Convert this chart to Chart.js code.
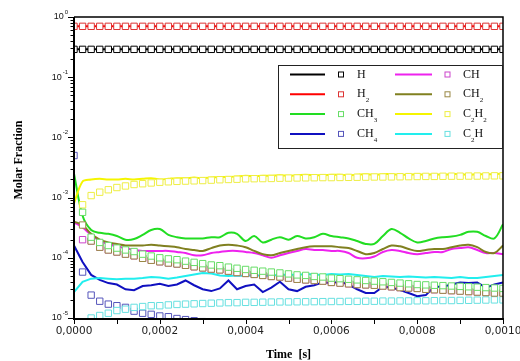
<!DOCTYPE html>
<html>
<head>
<meta charset="utf-8">
<script src="https://cdn.jsdelivr.net/npm/chart.js@4"></script>
<style>
  html, body { margin: 0; padding: 0; background: #fff; }
  canvas { display: block; }
</style>
</head>
<body>
<canvas id="molChart" width="520" height="361"></canvas>
<script>
// time in microseconds
const timeUs = [0, 20, 40, 60, 80, 100, 120, 140, 160, 180,
  200, 220, 240, 260, 280, 300, 320, 340, 360, 380,
  400, 420, 440, 460, 480, 500, 520, 540, 560, 580,
  600, 620, 640, 660, 680, 700, 720, 740, 760, 780,
  800, 820, 840, 860, 880, 900, 920, 940, 960, 980, 1000];

// H and H2 (line and markers share values)
const hVals = [0.29, 0.29, 0.29, 0.29, 0.29, 0.29, 0.29, 0.29, 0.29, 0.29,
  0.29, 0.29, 0.29, 0.29, 0.29, 0.29, 0.29, 0.29, 0.29, 0.29,
  0.29, 0.29, 0.29, 0.29, 0.29, 0.29, 0.29, 0.29, 0.29, 0.29,
  0.29, 0.29, 0.29, 0.29, 0.29, 0.29, 0.29, 0.29, 0.29, 0.29,
  0.29, 0.29, 0.29, 0.29, 0.29, 0.29, 0.29, 0.29, 0.29, 0.29, 0.29];
const h2Vals = [0.70, 0.70, 0.70, 0.70, 0.70, 0.70, 0.70, 0.70, 0.70, 0.70,
  0.70, 0.70, 0.70, 0.70, 0.70, 0.70, 0.70, 0.70, 0.70, 0.70,
  0.70, 0.70, 0.70, 0.70, 0.70, 0.70, 0.70, 0.70, 0.70, 0.70,
  0.70, 0.70, 0.70, 0.70, 0.70, 0.70, 0.70, 0.70, 0.70, 0.70,
  0.70, 0.70, 0.70, 0.70, 0.70, 0.70, 0.70, 0.70, 0.70, 0.70, 0.70];

// line series
const ch3Line = [2.5e-3, 5.0e-4, 2.9e-4, 2.6e-4, 2.5e-4, 2.3e-4, 2.0e-4, 2.05e-4, 2.4e-4, 2.9e-4,
  3.0e-4, 2.4e-4, 2.2e-4, 2.1e-4, 2.1e-4, 2.1e-4, 2.2e-4, 2.2e-4, 2.6e-4, 2.5e-4,
  1.9e-4, 2.3e-4, 1.8e-4, 2.0e-4, 2.2e-4, 2.0e-4, 2.3e-4, 2.1e-4, 2.2e-4, 2.5e-4,
  2.3e-4, 2.2e-4, 2.1e-4, 1.9e-4, 1.7e-4, 1.7e-4, 2.3e-4, 3.0e-4, 2.6e-4, 2.1e-4,
  1.8e-4, 1.9e-4, 2.1e-4, 2.2e-4, 2.25e-4, 2.4e-4, 2.7e-4, 2.7e-4, 2.3e-4, 2.1e-4, 3.6e-4];
const ch2Line = [4.0e-4, 3.5e-4, 2.5e-4, 2.0e-4, 1.8e-4, 1.7e-4, 1.6e-4, 1.6e-4, 1.6e-4, 1.65e-4,
  1.6e-4, 1.55e-4, 1.5e-4, 1.4e-4, 1.35e-4, 1.3e-4, 1.45e-4, 1.6e-4, 1.65e-4, 1.6e-4,
  1.5e-4, 1.3e-4, 1.15e-4, 1.1e-4, 1.2e-4, 1.3e-4, 1.4e-4, 1.5e-4, 1.55e-4, 1.55e-4,
  1.55e-4, 1.5e-4, 1.45e-4, 1.3e-4, 1.15e-4, 1.2e-4, 1.4e-4, 1.6e-4, 1.55e-4, 1.4e-4,
  1.3e-4, 1.35e-4, 1.4e-4, 1.4e-4, 1.5e-4, 1.6e-4, 1.65e-4, 1.5e-4, 1.25e-4, 1.2e-4, 1.6e-4];
const chLine = [3.9e-4, 3.2e-4, 2.4e-4, 1.9e-4, 1.7e-4, 1.55e-4, 1.45e-4, 1.35e-4, 1.3e-4, 1.3e-4,
  1.3e-4, 1.3e-4, 1.25e-4, 1.2e-4, 1.1e-4, 1.1e-4, 1.2e-4, 1.25e-4, 1.3e-4, 1.3e-4,
  1.25e-4, 1.2e-4, 1.1e-4, 1.0e-4, 1.1e-4, 1.2e-4, 1.3e-4, 1.4e-4, 1.35e-4, 1.35e-4,
  1.3e-4, 1.3e-4, 1.2e-4, 1.0e-4, 9.8e-5, 1.05e-4, 1.25e-4, 1.35e-4, 1.3e-4, 1.2e-4,
  1.15e-4, 1.2e-4, 1.25e-4, 1.25e-4, 1.4e-4, 1.45e-4, 1.5e-4, 1.35e-4, 1.2e-4, 1.2e-4, 1.15e-4];
const ch4Line = [1.6e-4, 8.5e-5, 5.2e-5, 4.3e-5, 3.8e-5, 3.6e-5, 3.0e-5, 2.9e-5, 3.4e-5, 3.5e-5,
  3.7e-5, 3.4e-5, 3.6e-5, 4.2e-5, 3.5e-5, 3.0e-5, 2.8e-5, 3.1e-5, 4.2e-5, 3.0e-5,
  3.4e-5, 3.6e-5, 2.7e-5, 3.2e-5, 4.0e-5, 3.0e-5, 2.8e-5, 3.3e-5, 3.5e-5, 3.9e-5,
  3.8e-5, 4.0e-5, 3.6e-5, 3.0e-5, 2.6e-5, 2.6e-5, 3.3e-5, 3.2e-5, 2.9e-5, 2.6e-5,
  2.3e-5, 2.4e-5, 3.3e-5, 3.3e-5, 3.6e-5, 3.9e-5, 3.8e-5, 3.9e-5, 3.2e-5, 3.6e-5, 3.9e-5];
const c2h2Line = [8.0e-4, 1.85e-3, 2.0e-3, 2.05e-3, 2.0e-3, 2.0e-3, 2.05e-3, 2.0e-3, 2.05e-3, 2.1e-3,
  2.0e-3, 2.05e-3, 2.1e-3, 2.1e-3, 2.15e-3, 2.1e-3, 2.15e-3, 2.2e-3, 2.2e-3, 2.25e-3,
  2.3e-3, 2.25e-3, 2.3e-3, 2.3e-3, 2.35e-3, 2.3e-3, 2.35e-3, 2.4e-3, 2.35e-3, 2.35e-3,
  2.4e-3, 2.4e-3, 2.35e-3, 2.4e-3, 2.45e-3, 2.4e-3, 2.45e-3, 2.45e-3, 2.4e-3, 2.4e-3,
  2.45e-3, 2.4e-3, 2.45e-3, 2.4e-3, 2.45e-3, 2.45e-3, 2.4e-3, 2.45e-3, 2.45e-3, 2.45e-3, 2.5e-3];
const c2hLine = [2.7e-5, 4.0e-5, 4.5e-5, 4.6e-5, 4.5e-5, 4.4e-5, 4.5e-5, 4.5e-5, 4.6e-5, 4.8e-5,
  4.7e-5, 4.5e-5, 4.7e-5, 5.0e-5, 5.3e-5, 5.6e-5, 5.5e-5, 5.1e-5, 5.0e-5, 5.1e-5,
  5.0e-5, 5.2e-5, 5.0e-5, 5.1e-5, 5.2e-5, 5.3e-5, 5.2e-5, 5.4e-5, 5.3e-5, 5.2e-5,
  5.4e-5, 5.3e-5, 5.4e-5, 5.2e-5, 5.0e-5, 4.8e-5, 5.0e-5, 4.9e-5, 4.8e-5, 4.9e-5,
  4.8e-5, 4.7e-5, 4.8e-5, 4.7e-5, 4.6e-5, 4.8e-5, 4.6e-5, 4.6e-5, 4.8e-5, 5.0e-5, 5.2e-5];

// marker series (hollow squares)
const ch3Marks = [null, 5.7e-4, 2.2e-4, 1.8e-4, 1.6e-4, 1.45e-4, 1.35e-4, 1.27e-4, 1.15e-4, 1.07e-4,
  1.0e-4, 9.6e-5, 9.3e-5, 8.8e-5, 8.4e-5, 8.0e-5, 7.6e-5, 7.4e-5, 7.0e-5, 6.7e-5,
  6.4e-5, 6.2e-5, 6.0e-5, 5.8e-5, 5.6e-5, 5.4e-5, 5.2e-5, 5.1e-5, 4.9e-5, 4.8e-5,
  4.6e-5, 4.5e-5, 4.4e-5, 4.3e-5, 4.2e-5, 4.1e-5, 4.0e-5, 3.9e-5, 3.8e-5, 3.7e-5,
  3.6e-5, 3.55e-5, 3.5e-5, 3.45e-5, 3.4e-5, 3.35e-5, 3.3e-5, 3.25e-5, 3.2e-5, 3.15e-5, 3.1e-5];
const ch2Marks = [null, 3.5e-4, 1.9e-4, 1.5e-4, 1.35e-4, 1.25e-4, 1.15e-4, 1.08e-4, 9.8e-5, 9.1e-5,
  8.6e-5, 8.2e-5, 7.9e-5, 7.5e-5, 7.1e-5, 6.8e-5, 6.5e-5, 6.3e-5, 6.0e-5, 5.7e-5,
  5.5e-5, 5.3e-5, 5.1e-5, 4.9e-5, 4.8e-5, 4.6e-5, 4.4e-5, 4.3e-5, 4.2e-5, 4.1e-5,
  3.9e-5, 3.8e-5, 3.7e-5, 3.6e-5, 3.55e-5, 3.5e-5, 3.4e-5, 3.3e-5, 3.2e-5, 3.15e-5,
  3.1e-5, 3.0e-5, 2.95e-5, 2.9e-5, 2.85e-5, 2.8e-5, 2.75e-5, 2.7e-5, 2.65e-5, 2.6e-5, 2.6e-5];
const chMarks = [null, 2.0e-4, 1.9e-4, 1.5e-4, 1.35e-4, 1.25e-4, 1.15e-4, 1.08e-4, 9.8e-5, 9.1e-5,
  8.6e-5, 8.2e-5, 7.9e-5, 7.5e-5, 7.1e-5, 6.8e-5, 6.5e-5, 6.3e-5, 6.0e-5, 5.7e-5,
  5.5e-5, 5.3e-5, 5.1e-5, 4.9e-5, 4.8e-5, 4.6e-5, 4.4e-5, 4.3e-5, 4.2e-5, 4.1e-5,
  3.9e-5, 3.8e-5, 3.7e-5, 3.6e-5, 3.55e-5, 3.5e-5, 3.4e-5, 3.3e-5, 3.2e-5, 3.15e-5,
  3.1e-5, 3.0e-5, 2.95e-5, 2.9e-5, 2.85e-5, 2.8e-5, 2.75e-5, 2.7e-5, 2.65e-5, 2.6e-5, 2.6e-5];
const ch4Marks = [5.0e-3, 5.8e-5, 2.4e-5, 1.9e-5, 1.7e-5, 1.6e-5, 1.5e-5, 1.3e-5, 1.2e-5, 1.15e-5,
  1.08e-5, 1.05e-5, 9.8e-6, 9.4e-6, 9.0e-6, 8.7e-6, 8.4e-6, 8.1e-6, 7.8e-6, 7.5e-6,
  7.2e-6, 7.0e-6, 6.8e-6, 6.6e-6, 6.4e-6, 6.2e-6, 6.0e-6, 5.8e-6, 5.6e-6, 5.5e-6,
  5.4e-6, 5.3e-6, 5.2e-6, 5.1e-6, 5.0e-6, 4.9e-6, 4.8e-6, 4.7e-6, 4.6e-6, 4.5e-6,
  4.4e-6, 4.3e-6, 4.2e-6, 4.1e-6, 4.0e-6, 3.9e-6, 3.8e-6, 3.7e-6, 3.6e-6, 3.5e-6, 3.4e-6];
const c2h2Marks = [null, 7.6e-4, 1.08e-3, 1.23e-3, 1.35e-3, 1.47e-3, 1.56e-3, 1.65e-3, 1.7e-3, 1.75e-3,
  1.8e-3, 1.83e-3, 1.86e-3, 1.88e-3, 1.9e-3, 1.92e-3, 1.95e-3, 1.98e-3, 2.0e-3, 2.02e-3,
  2.05e-3, 2.06e-3, 2.07e-3, 2.08e-3, 2.1e-3, 2.11e-3, 2.12e-3, 2.13e-3, 2.14e-3, 2.15e-3,
  2.15e-3, 2.16e-3, 2.17e-3, 2.18e-3, 2.19e-3, 2.2e-3, 2.2e-3, 2.21e-3, 2.22e-3, 2.23e-3,
  2.24e-3, 2.25e-3, 2.25e-3, 2.26e-3, 2.27e-3, 2.27e-3, 2.28e-3, 2.28e-3, 2.29e-3, 2.3e-3, 2.3e-3];
const c2hMarks = [null, 8.5e-6, 1.0e-5, 1.1e-5, 1.2e-5, 1.33e-5, 1.4e-5, 1.5e-5, 1.55e-5, 1.6e-5,
  1.6e-5, 1.65e-5, 1.68e-5, 1.7e-5, 1.72e-5, 1.74e-5, 1.76e-5, 1.78e-5, 1.8e-5, 1.8e-5,
  1.82e-5, 1.82e-5, 1.83e-5, 1.84e-5, 1.85e-5, 1.85e-5, 1.86e-5, 1.86e-5, 1.87e-5, 1.87e-5,
  1.88e-5, 1.88e-5, 1.89e-5, 1.89e-5, 1.9e-5, 1.9e-5, 1.91e-5, 1.91e-5, 1.92e-5, 1.92e-5,
  1.93e-5, 1.93e-5, 1.94e-5, 1.95e-5, 1.95e-5, 1.96e-5, 1.97e-5, 1.98e-5, 1.99e-5, 2.0e-5, 2.0e-5];

// axis ticks
const xTickLabels = ['0,0000', '0,0002', '0,0004', '0,0006', '0,0008', '0,0010'];
const xTickValues = [0, 0.0002, 0.0004, 0.0006, 0.0008, 0.0010];
const yExponents = [0, -1, -2, -3, -4, -5];

function pts(vals) {
  return vals.map((v, i) => ({ x: timeUs[i] / 1e6, y: v }));
}

function lineSet(vals, color, smooth) {
  return {
    data: pts(vals), showLine: true, borderColor: color, borderWidth: 2, pointRadius: 0,
    tension: smooth ? 0.35 : 0, order: 5
  };
}
function markSet(vals, color, ord) {
  return {
    data: pts(vals), showLine: false, pointStyle: 'rect', pointRadius: 4.5,
    pointBorderWidth: 1, pointBorderColor: color, pointBackgroundColor: '#fff',
    order: ord
  };
}

const legendItems = [
  { line: '#000000', mark: '#000000', parts: [['H', '']] },
  { line: '#ff0000', mark: '#dd3333', parts: [['H', '2']] },
  { line: '#22dd22', mark: '#66dd66', parts: [['CH', '3']] },
  { line: '#1010c0', mark: '#5555bb', parts: [['CH', '4']] },
  { line: '#ee22ee', mark: '#cc44cc', parts: [['CH', '']] },
  { line: '#808020', mark: '#998844', parts: [['CH', '2']] },
  { line: '#f5f500', mark: '#eeee44', parts: [['C', '2'], ['H', '2']] },
  { line: '#22eeee', mark: '#66e0e0', parts: [['C', '2'], ['H', '']] }
];

const frame = {
  id: 'frame',
  afterDatasetsDraw(chart) {
    const ctx = chart.ctx;
    const a = chart.chartArea;
    const xs = chart.scales.x, ys = chart.scales.y;
    ctx.save();
    ctx.strokeStyle = '#000';
    // box
    ctx.lineWidth = 1.5;
    ctx.beginPath();
    ctx.moveTo(a.left, a.top); ctx.lineTo(a.right, a.top); ctx.lineTo(a.right, a.bottom);
    ctx.stroke();
    ctx.lineWidth = 2;
    ctx.beginPath();
    ctx.moveTo(a.left, a.top); ctx.lineTo(a.left, a.bottom + 1); ctx.lineTo(a.right + 1, a.bottom + 1);
    ctx.stroke();

    // y ticks: majors and minors, pointing out
    ctx.lineWidth = 1;
    yExponents.forEach(e => {
      const base = Math.pow(10, e);
      let y = Math.round(ys.getPixelForValue(base)) + 0.5;
      ctx.beginPath(); ctx.moveTo(a.left - 6, y); ctx.lineTo(a.left, y); ctx.stroke();
      if (e > -5) {
        for (let m = 2; m <= 9; m++) {
          y = Math.round(ys.getPixelForValue(base * m / 10)) + 0.5;
          ctx.beginPath(); ctx.moveTo(a.left - 3.5, y); ctx.lineTo(a.left, y); ctx.stroke();
        }
      }
    });
    // y labels
    ctx.fillStyle = '#111';
    ctx.textBaseline = 'middle';
    yExponents.forEach(e => {
      const y = ys.getPixelForValue(Math.pow(10, e));
      const sup = String(e);
      ctx.font = '6px "Liberation Sans"';
      const sw = ctx.measureText(sup).width;
      ctx.font = '9px "Liberation Sans"';
      const bw = ctx.measureText('10').width;
      const right = a.left - 6;
      ctx.textAlign = 'left';
      ctx.fillText('10', right - sw - bw - 1, y);
      ctx.font = '6px "Liberation Sans"';
      ctx.fillText(sup, right - sw, y - 5);
    });

    // x ticks every 0.0001, pointing down
    ctx.lineWidth = 1;
    for (let k = 0; k <= 10; k++) {
      const x = Math.round(xs.getPixelForValue(k * 0.0001)) + 0.5;
      ctx.beginPath(); ctx.moveTo(x, a.bottom + 1); ctx.lineTo(x, a.bottom + 6); ctx.stroke();
    }
    ctx.font = '10.5px "DejaVu Sans"';
    ctx.textAlign = 'center';
    ctx.fillStyle = '#222';
    xTickValues.forEach((v, i) => {
      ctx.fillText(xTickLabels[i], xs.getPixelForValue(v), a.bottom + 13);
    });

    // axis titles
    ctx.fillStyle = '#000';
    ctx.font = 'bold 12px "Liberation Serif"';
    ctx.fillText('Time  [s]', (a.left + a.right) / 2, 355);
    ctx.save();
    ctx.translate(19, 160);
    ctx.rotate(-Math.PI / 2);
    ctx.font = 'bold 12px "Liberation Serif"';
    ctx.fillText('Molar Fraction', 0, 0);
    ctx.restore();

    // legend box
    const lx = 278.5, ly = 65.5, lw = 224, lh = 83;
    ctx.fillStyle = '#fff';
    ctx.fillRect(lx, ly, lw, lh);
    ctx.lineWidth = 1;
    ctx.strokeStyle = '#222';
    ctx.strokeRect(lx, ly, lw, lh);
    const cols = [{ l0: 290, l1: 325, sq: 341, tx: 357 }, { l0: 395, l1: 432, sq: 447.5, tx: 463 }];
    legendItems.forEach((it, i) => {
      const c = cols[Math.floor(i / 4)];
      const y = 74.5 + (i % 4) * 19.8;
      ctx.strokeStyle = it.line;
      ctx.lineWidth = 2;
      ctx.beginPath(); ctx.moveTo(c.l0, y); ctx.lineTo(c.l1, y); ctx.stroke();
      ctx.strokeStyle = it.mark;
      ctx.lineWidth = 1;
      ctx.strokeRect(c.sq - 2.5, y - 2.5, 5, 5);
      let x = c.tx;
      ctx.fillStyle = '#111';
      ctx.textAlign = 'left';
      it.parts.forEach(p => {
        ctx.font = '12px "Liberation Serif"';
        ctx.fillText(p[0], x, y);
        x += ctx.measureText(p[0]).width;
        if (p[1]) {
          ctx.font = '7px "Liberation Serif"';
          ctx.fillText(p[1], x, y + 6);
          x += ctx.measureText(p[1]).width;
        }
      });
    });
    ctx.restore();
  }
};

new Chart(document.getElementById('molChart'), {
  type: 'scatter',
  data: {
    datasets: [
      lineSet(hVals, '#000000', true),
      lineSet(h2Vals, '#ff0000', true),
      lineSet(c2h2Line, '#f5f500', true),
      lineSet(ch3Line, '#22dd22', true),
      lineSet(ch2Line, '#808020', true),
      lineSet(chLine, '#ee22ee', true),
      lineSet(c2hLine, '#22eeee', false),
      lineSet(ch4Line, '#1010c0', false),
      markSet(chMarks, '#cc44cc', 4),
      markSet(c2hMarks, '#66e0e0', 3),
      markSet(ch4Marks, '#5555bb', 3),
      markSet(ch2Marks, '#998844', 2),
      markSet(ch3Marks, '#66dd66', 1),
      markSet(c2h2Marks, '#eeee44', 1),
      markSet(hVals, '#000000', 0),
      markSet(h2Vals, '#dd3333', 0)
    ]
  },
  options: {
    responsive: false,
    animation: false,
    layout: { padding: { left: 74, right: 17, top: 17, bottom: 43 } },
    plugins: { legend: { display: false }, tooltip: { enabled: false } },
    scales: {
      x: { type: 'linear', display: false, min: 0, max: 0.001 },
      y: { type: 'logarithmic', display: false, min: 1e-5, max: 1 }
    }
  },
  plugins: [frame]
});
</script>
</body>
</html>
